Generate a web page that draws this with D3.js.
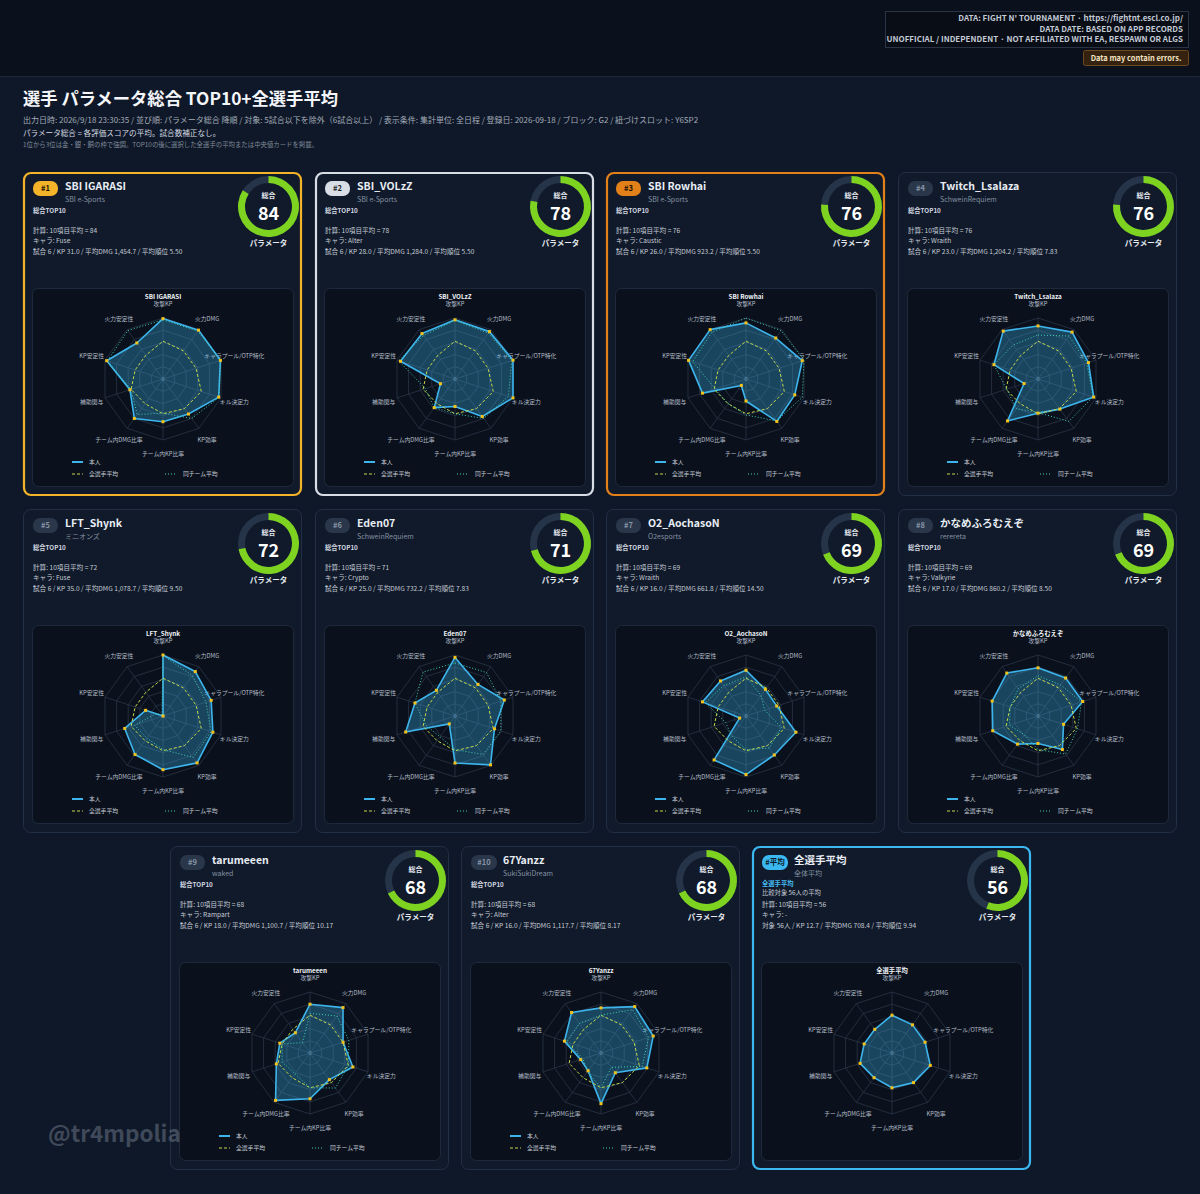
<!DOCTYPE html>
<html><head><meta charset="utf-8">
<script src="https://cdn.jsdelivr.net/npm/d3@7"></script>
<style>
html,body{margin:0;padding:0;background:#0f1828;}
svg{display:block;}
text{font-family:"Noto Sans CJK JP","Noto Sans",sans-serif;}
</style></head><body>
<svg id="chart" width="1200" height="1194"></svg>
<script>
// ---------- DATA ----------
const axes = ["攻撃KP","火力DMG","キャラプール/OTP特化","キル決定力","KP効率","チーム内KP比率","チーム内DMG比率","補助関与","KP安定性","火力安定性"];
const ranks = ["#1","#2","#3","#4","#5","#6","#7","#8","#9","#10","#平均"];
const names = ["SBI IGARASI","SBI_VOLzZ","SBI Rowhai","Twitch_Lsalaza","LFT_Shynk","Eden07","O2_AochasoN","かなめふろむえぞ","tarumeeen","67Yanzz","全選手平均"];
const teams = ["SBI e-Sports","SBI e-Sports","SBI e-Sports","SchweinRequiem","ミニオンズ","SchweinRequiem","O2esports","rerereta","waked","SukiSukiDream","全体平均"];
const scores = [84,78,76,76,72,71,69,69,68,68,56];
const characters = ["Fuse","Alter","Caustic","Wraith","Fuse","Crypto","Wraith","Valkyrie","Rampart","Alter","-"];
const games = [6,6,6,6,6,6,6,6,6,6,null];
const kps = ["31.0","28.0","26.0","23.0","35.0","25.0","16.0","17.0","18.0","16.0","12.7"];
const avgDmg = ["1,454.7","1,284.0","923.2","1,204.2","1,078.7","732.2","661.8","860.2","1,100.7","1,117.7","708.4"];
const avgPlace = ["5.50","5.50","5.50","7.83","9.50","7.83","14.50","8.50","10.17","8.17","9.94"];
const comparedPlayers = 56;

const playerValues = [
  [99,99,99,96,71,70,80,57,97,73],
  [97,96,100,100,76,45,58,25,94,92],
  [92,83,97,84,86,36,13,75,99,100],
  [87,95,87,96,61,56,85,24,76,97],
  [100,90,83,86,95,88,78,66,30,0],
  [96,64,85,68,99,77,16,85,69,52],
  [75,54,53,86,79,96,89,11,75,71],
  [79,77,77,44,68,45,57,78,79,87],
  [80,92,57,74,54,75,96,58,52,41],
  [74,94,90,79,40,83,36,35,63,82],
  [62,57,57,66,60,57,50,55,48,48]
];
const teamValues = [
  [97,97,99,97,80,56,72,55,96,98],
  [96,93,98,92,80,57,58,51,97,88],
  [100,98,100,97,85,59,50,53,92,95],
  [72,87,84,95,86,55,60,54,76,69],
  [99,82,74,83,84,55,45,49,12,3],
  [87,88,79,79,78,55,42,50,69,89],
  [64,42,32,61,65,55,40,35,70,62],
  [66,63,75,68,77,55,38,49,48,55],
  [65,75,67,66,71,57,42,48,48,21],
  [62,88,82,71,29,57,38,31,59,60],
  null
];
const allPlayerAvg = [62,57,57,66,60,57,50,55,48,48];

const legendLabels = ["本人","全選手平均","同チーム平均"];

// ---------- STYLE ----------
const C = {
  bg:"#0f1828", header:"#0a111d", card:"#101a2a", panel:"#0a111c", panelBorder:"#1e2a3b",
  cardBorder:"#223046", grid:"#2b3547", text:"#e8edf4", sub:"#aab3c0", dim:"#7f8a99",
  player:"#3db5ec", point:"#f2c21b", avg:"#c3d84a", team:"#3fd0b2",
  gaugeTrack:"#26344a", gauge:"#7ed321"
};
const borderColors = ["#f4b42a","#d9dee6","#e2801a",null,null,null,null,null,null,null,"#3cb8f0"];
const badgeFill = ["#f4b42a","#d9dee6","#e2801a","#2a3649","#2a3649","#2a3649","#2a3649","#2a3649","#2a3649","#2a3649","#3cb8f0"];
const badgeText = ["#1a1204","#1a1f28","#1a0e03","#8794a8","#8794a8","#8794a8","#8794a8","#8794a8","#8794a8","#8794a8","#0a1a28"];

const svg = d3.select("#chart");
svg.append("rect").attr("width",1200).attr("height",1194).attr("fill",C.bg);
svg.append("rect").attr("width",1200).attr("height",76).attr("fill",C.header);
svg.append("line").attr("x1",0).attr("x2",1200).attr("y1",76.5).attr("y2",76.5).attr("stroke","#1d2839");

// top-right info box
svg.append("rect").attr("x",885.5).attr("y",11.5).attr("width",303).attr("height",36).attr("fill","#080d16").attr("stroke","#2a3445");
["DATA: FIGHT N' TOURNAMENT · https://fightnt.escl.co.jp/","DATA DATE: BASED ON APP RECORDS","UNOFFICIAL / INDEPENDENT · NOT AFFILIATED WITH EA, RESPAWN OR ALGS"]
 .forEach((t,i)=>svg.append("text").attr("x",1183).attr("y",21+i*10.5).attr("text-anchor","end")
   .attr("font-size",8).attr("font-weight",700).attr("fill","#c3cad5").text(t));
svg.append("rect").attr("x",1083.5).attr("y",50.5).attr("width",105).attr("height",15).attr("rx",2).attr("fill","#34210f").attr("stroke","#6e4a1f");
svg.append("text").attr("x",1136).attr("y",61).attr("text-anchor","middle").attr("font-size",7.5).attr("font-weight",700).attr("fill","#f3e3c2").text("Data may contain errors.");

// title block
svg.append("text").attr("x",23).attr("y",105).attr("font-size",17.3).attr("font-weight",700).attr("fill","#f4f6fa").text("選手 パラメータ総合 TOP10+全選手平均");
svg.append("text").attr("x",23).attr("y",123).attr("font-size",8).attr("fill","#a2abb8")
  .text("出力日時: 2026/9/18 23:30:35 / 並び順: パラメータ総合 降順 / 対象: 5試合以下を除外（6試合以上） / 表示条件: 集計単位: 全日程 / 登録日: 2026-09-18 / ブロック: G2 / 紐づけスロット: Y6SP2");
svg.append("text").attr("x",23).attr("y",136).attr("font-size",7.6).attr("fill","#d4d9e1").text("パラメータ総合 = 各評価スコアの平均。試合数補正なし。");
svg.append("text").attr("x",23).attr("y",147).attr("font-size",6.4).attr("fill","#7f8a99").text("1位から3位は金・銀・銅の枠で強調。TOP10の後に選択した全選手の平均または中央値カードを掲載。");

// ---------- CARDS ----------
const cardW = 279, cardH = 324;
const rowX = [[23,315,606,898],[23,315,606,898],[170,461,752]];
const rowY = [172,509,846];
const positions = [];
rowX.forEach((xs,r)=>xs.forEach(x=>positions.push([x,rowY[r]])));

const R = 61;
const rScale = d3.scaleLinear().domain([0,100]).range([0,R]);
const angle = i => i*2*Math.PI/axes.length;
const radial = d3.lineRadial().angle((d,i)=>angle(i)).radius(d=>rScale(d)).curve(d3.curveLinearClosed);

names.forEach((name,k)=>{
  const [x0,y0] = positions[k];
  const g = svg.append("g").attr("transform",`translate(${x0},${y0})`);
  const bc = borderColors[k];
  g.append("rect").attr("x",bc?1:0.5).attr("y",bc?1:0.5).attr("width",bc?cardW-2:cardW-1).attr("height",bc?cardH-2:cardH-1)
    .attr("rx",7).attr("fill",C.card).attr("stroke",bc||C.cardBorder).attr("stroke-width",bc?2.2:1);

  // badge
  const isAvg = k===names.length-1;
  const bw = isAvg?26:(ranks[k].length>2?26:25);
  g.append("rect").attr("x",10).attr("y",9).attr("width",bw).attr("height",15).attr("rx",7).attr("fill",badgeFill[k]);
  g.append("text").attr("x",10+bw/2).attr("y",19.3).attr("text-anchor","middle").attr("font-size",7.5).attr("font-weight",700).attr("fill",badgeText[k]).text(ranks[k]);
  g.append("text").attr("x",42).attr("y",17.5).attr("font-size",10.5).attr("font-weight",700).attr("fill",C.text).text(name);
  g.append("text").attr("x",42).attr("y",30).attr("font-size",7).attr("fill","#8591a3").text(teams[k]);

  if(!isAvg){
    g.append("text").attr("x",10).attr("y",40.5).attr("font-size",6.3).attr("font-weight",700).attr("fill","#d3d8e0").text("総合TOP10");
    g.append("text").attr("x",10).attr("y",60.5).attr("font-size",6.6).attr("fill","#c5cbd5").text(`計算: 10項目平均 = ${scores[k]}`);
    g.append("text").attr("x",10).attr("y",71).attr("font-size",6.6).attr("fill","#c5cbd5").text(`キャラ: ${characters[k]}`);
    g.append("text").attr("x",10).attr("y",81.5).attr("font-size",6.6).attr("fill","#c5cbd5").text(`試合 ${games[k]} / KP ${kps[k]} / 平均DMG ${avgDmg[k]} / 平均順位 ${avgPlace[k]}`);
  } else {
    g.append("text").attr("x",10).attr("y",40).attr("font-size",6.3).attr("font-weight",700).attr("fill","#49bdf2").text("全選手平均");
    g.append("text").attr("x",10).attr("y",48.5).attr("font-size",6.3).attr("fill","#c5cbd5").text(`比較対象 ${comparedPlayers}人の平均`);
    g.append("text").attr("x",10).attr("y",60.5).attr("font-size",6.6).attr("fill","#c5cbd5").text(`計算: 10項目平均 = ${scores[k]}`);
    g.append("text").attr("x",10).attr("y",71).attr("font-size",6.6).attr("fill","#c5cbd5").text(`キャラ: ${characters[k]}`);
    g.append("text").attr("x",10).attr("y",81.5).attr("font-size",6.6).attr("fill","#c5cbd5").text(`対象 ${comparedPlayers}人 / KP ${kps[k]} / 平均DMG ${avgDmg[k]} / 平均順位 ${avgPlace[k]}`);
  }

  // gauge
  const gx=245.5, gy=34.5, gr=27;
  const arc = d3.arc().innerRadius(gr-3.5).outerRadius(gr+3.5);
  const gg = g.append("g").attr("transform",`translate(${gx},${gy})`);
  gg.append("path").attr("d",arc({startAngle:0,endAngle:2*Math.PI})).attr("fill",C.gaugeTrack);
  gg.append("path").attr("d",arc({startAngle:0,endAngle:2*Math.PI*scores[k]/100})).attr("fill",C.gauge);
  gg.append("text").attr("y",-9).attr("text-anchor","middle").attr("font-size",7).attr("font-weight",700).attr("fill","#e6eaf0").text("総合");
  gg.append("text").attr("y",13).attr("text-anchor","middle").attr("font-size",18).attr("font-weight",700).attr("fill","#ffffff").text(scores[k]);
  gg.append("text").attr("y",39.5).attr("text-anchor","middle").attr("font-size",7.5).attr("font-weight",700).attr("fill","#e6eaf0").text("パラメータ");

  // radar panel
  g.append("rect").attr("x",9.5).attr("y",116.5).attr("width",261).attr("height",198).attr("rx",6).attr("fill",C.panel).attr("stroke",C.panelBorder);
  const rg = g.append("g").attr("transform",`translate(140,207)`);
  [20,40,60,80,100].forEach(v=>{
    rg.append("path").attr("d",radial(axes.map(()=>v))).attr("fill","none").attr("stroke",C.grid).attr("stroke-width",0.8);
  });
  axes.forEach((a,i)=>{
    const ang = angle(i);
    rg.append("line").attr("x1",0).attr("y1",0).attr("x2",Math.sin(ang)*R).attr("y2",-Math.cos(ang)*R).attr("stroke",C.grid).attr("stroke-width",0.8);
    const lr = R+14;
    rg.append("text").attr("x",Math.sin(ang)*lr).attr("y",-Math.cos(ang)*lr+2.2).attr("text-anchor","middle")
      .attr("font-size",5.8).attr("fill","#b4bcc8").text(a);
  });
  rg.append("text").attr("x",0).attr("y",2).attr("text-anchor","middle").attr("font-size",5.5).attr("fill","#7f8a99").text("0");
  rg.append("text").attr("x",0).attr("y",-80).attr("text-anchor","middle").attr("font-size",6.3).attr("font-weight",700).attr("fill","#f0f3f7").text(name);

  // series
  rg.append("path").attr("d",radial(playerValues[k])).attr("fill",C.player).attr("fill-opacity",0.32)
    .attr("stroke",C.player).attr("stroke-width",1.6).attr("stroke-linejoin","round");
  if(!isAvg){
    rg.append("path").attr("d",radial(allPlayerAvg)).attr("fill","none").attr("stroke",C.avg).attr("stroke-width",1).attr("stroke-dasharray","3,2");
    rg.append("path").attr("d",radial(teamValues[k])).attr("fill","none").attr("stroke",C.team).attr("stroke-width",1).attr("stroke-dasharray","1,2");
  }
  playerValues[k].forEach((v,i)=>{
    const ang = angle(i), r = rScale(v);
    rg.append("rect").attr("x",Math.sin(ang)*r-1.5).attr("y",-Math.cos(ang)*r-1.5).attr("width",3).attr("height",3).attr("fill",C.point);
  });

  // legend
  if(!isAvg){
    const lg = g.append("g");
    lg.append("line").attr("x1",49).attr("x2",60).attr("y1",290).attr("y2",290).attr("stroke",C.player).attr("stroke-width",2);
    lg.append("text").attr("x",66).attr("y",292).attr("font-size",5.8).attr("fill","#c5cbd5").text(legendLabels[0]);
    lg.append("line").attr("x1",49).attr("x2",60).attr("y1",302).attr("y2",302).attr("stroke",C.avg).attr("stroke-width",1.2).attr("stroke-dasharray","3,2");
    lg.append("text").attr("x",66).attr("y",304).attr("font-size",5.8).attr("fill","#c5cbd5").text(legendLabels[1]);
    lg.append("line").attr("x1",142).attr("x2",154).attr("y1",302).attr("y2",302).attr("stroke",C.team).attr("stroke-width",1.2).attr("stroke-dasharray","1,2");
    lg.append("text").attr("x",160).attr("y",304).attr("font-size",5.8).attr("fill","#c5cbd5").text(legendLabels[2]);
  }
});

// watermark
svg.append("text").attr("x",48).attr("y",1142).attr("font-size",22.5).attr("font-weight",700).attr("fill","#6b7686").attr("fill-opacity",0.55).text("@tr4mpolia");
</script>
</body></html>
